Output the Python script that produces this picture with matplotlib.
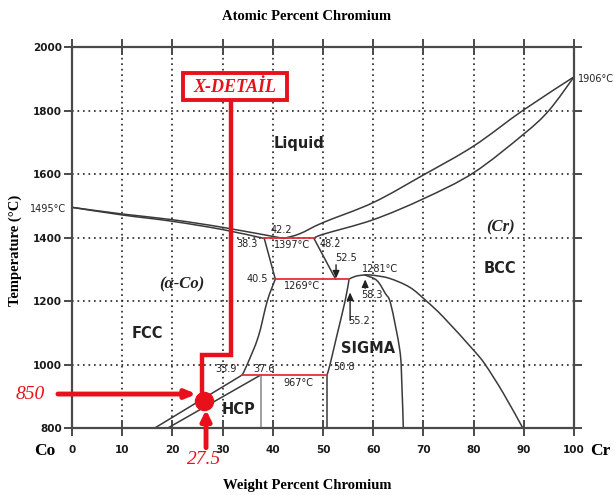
import matplotlib
matplotlib.use('Agg')
import matplotlib.pyplot as plt
from matplotlib.patches import Rectangle, PathPatch
from matplotlib.path import Path

# ---------------- data (wt% Cr, temperature °C) ----------------
x_ticks = [0, 10, 20, 30, 40, 50, 60, 70, 80, 90, 100]
y_ticks = [800, 1000, 1200, 1400, 1600, 1800, 2000]

liq_co_x = [0, 10, 20, 30, 42.2]
liq_co_t = [1495, 1474, 1456, 1432, 1397]
sol_co_x = [0, 10, 20, 30, 38.3]
sol_co_t = [1495, 1471, 1451, 1425, 1397]

liq_cr_x = [42.2, 45.4, 50, 60, 70, 80, 89.8, 100]
liq_cr_t = [1397, 1412, 1447, 1510, 1597, 1688, 1800, 1906]
sol_cr_x = [48.2, 50, 60, 70, 80, 90, 95, 100]
sol_cr_t = [1397, 1410, 1456, 1522, 1604, 1726, 1800, 1906]

aco_x = [38.3, 40.5, 38.9, 37.1, 34.9, 33.9]
aco_t = [1397, 1269, 1200, 1087, 1000, 967]

cr_solv_x = [48.2, 52.5]
cr_solv_t = [1397, 1269]

bcc_x = [55.2, 56.5, 58.3, 60, 63.3, 67.3, 70.6, 74, 80, 82.3, 85.9, 89.8]
bcc_t = [1269, 1278, 1282, 1281, 1271, 1243, 1200, 1149, 1045, 1000, 910, 800]

sig_left_x = [50.8, 50.8, 51.4, 52.7, 54.4, 55.2]
sig_left_t = [800, 967, 1000, 1087, 1200, 1269]
sig_right_x = [58.3, 60.7, 62.4, 63.5, 65.3, 65.7, 66]
sig_right_t = [1282, 1265, 1224, 1190, 1045, 941, 800]

fcc_x = [33.9, 16.5]
fcc_t = [967, 800]
hcp_x = [37.6, 19.1]
hcp_t = [967, 800]
hcp_sig_x = [37.6, 37.6]
hcp_sig_t = [967, 800]

iso_t = [1397, 1269, 967]
iso_x0 = [38.3, 40.5, 33.9]
iso_x1 = [48.2, 55.2, 50.8]

# point of interest
poi_x = 26.3
poi_t = 885

# ---------------- figure ----------------
W, H = 615, 495
fig = plt.figure(figsize=(W / 100, H / 100), dpi=100)
ax = fig.add_axes([72 / W, 1 - 428 / H, (574 - 72) / W, (428 - 47) / H])
ax.set_xlim(0, 100)
ax.set_ylim(800, 2000)

line_col = '#3a3a3a'
red = '#e8101a'


def smooth_curve(xs, ys, **kw):
    """Draw a smooth (Catmull-Rom as Bezier) path through the read points."""
    # work in display-independent scaled coordinates so smoothing is isotropic
    sx, sy = 1.0, 100.0 / 1200.0 * (381 / 502)
    px = [x * sx for x in xs]
    py = [y * sy for y in ys]
    n = len(px)
    verts = [(xs[0], ys[0])]
    codes = [Path.MOVETO]
    for i in range(n - 1):
        p0 = (px[i - 1], py[i - 1]) if i > 0 else (px[i], py[i])
        p1 = (px[i], py[i])
        p2 = (px[i + 1], py[i + 1])
        p3 = (px[i + 2], py[i + 2]) if i + 2 < n else p2
        c1 = (p1[0] + (p2[0] - p0[0]) / 6, p1[1] + (p2[1] - p0[1]) / 6)
        c2 = (p2[0] - (p3[0] - p1[0]) / 6, p2[1] - (p3[1] - p1[1]) / 6)
        for c in (c1, c2, p2):
            verts.append((c[0] / sx, c[1] / sy))
        codes += [Path.CURVE4] * 3
    patch = PathPatch(Path(verts, codes), fill=False, **kw)
    ax.add_patch(patch)


curve = dict(edgecolor=line_col, lw=1.1, capstyle='round')

# grid
for gx in x_ticks[1:-1]:
    ax.axvline(gx, color='#222222', lw=1.2, ls=(0, (1, 2.3)), zorder=0)
for gy in y_ticks[1:-1]:
    ax.axhline(gy, color='#222222', lw=1.2, ls=(0, (1, 2.3)), zorder=0)

smooth_curve(liq_co_x, liq_co_t, **curve)
smooth_curve(sol_co_x, sol_co_t, **curve)
smooth_curve(liq_cr_x, liq_cr_t, **curve)
smooth_curve(sol_cr_x, sol_cr_t, **curve)
ax.plot(aco_x[:2], aco_t[:2], color=line_col, lw=1.1)
smooth_curve(aco_x[1:], aco_t[1:], **curve)
ax.plot(cr_solv_x, cr_solv_t, color=line_col, lw=1.1)
smooth_curve(bcc_x, bcc_t, **curve)
ax.plot(sig_left_x[:2], sig_left_t[:2], color=line_col, lw=1.1)
smooth_curve(sig_left_x[1:], sig_left_t[1:], **curve)
smooth_curve(sig_right_x, sig_right_t, **curve)
ax.plot(fcc_x, fcc_t, color=line_col, lw=1.1)
ax.plot(hcp_x, hcp_t, color=line_col, lw=1.1)
ax.plot(hcp_sig_x, hcp_sig_t, color='#999999', lw=1.3)

for t, a, b in zip(iso_t, iso_x0, iso_x1):
    ax.plot([a, b], [t, t], color='#e0303a', lw=1.3)

# spines & ticks
for s in ax.spines.values():
    s.set_color('#4a4a4a')
    s.set_linewidth(1.6)
ax.set_xticks(x_ticks)
ax.set_yticks(y_ticks)
ax.tick_params(axis='x', which='both', direction='inout', length=12, width=1.4,
               color='#4a4a4a', top=True, labeltop=False, pad=6)
ax.tick_params(axis='y', which='both', direction='out', length=6, width=1.4,
               color='#4a4a4a', right=True, pad=1)
for lab in ax.get_xticklabels() + ax.get_yticklabels():
    lab.set_fontsize(7.5)
    lab.set_fontweight('bold')
    lab.set_color('#1a1a1a')

serif = 'Liberation Serif'
fig.text(307 / W, 1 - 16 / H, 'Atomic Percent Chromium', ha='center', va='center',
         family=serif, weight='bold', fontsize=10.5)
fig.text(307 / W, 1 - 486 / H, 'Weight Percent Chromium', ha='center', va='center',
         family=serif, weight='bold', fontsize=10.5)
fig.text(15 / W, 1 - 250 / H, 'Temperature (°C)', ha='center', va='center',
         rotation=90, family=serif, weight='bold', fontsize=10.5)
fig.text(45 / W, 1 - 451 / H, 'Co', ha='center', va='center',
         family=serif, weight='bold', fontsize=12.5)
fig.text(600 / W, 1 - 451 / H, 'Cr', ha='center', va='center',
         family=serif, weight='bold', fontsize=12.5)

# small labels
small = dict(fontsize=7, color='#222222', ha='center', va='center')
labels = [
    ('42.2', 41.8, 1425), ('38.3', 34.9, 1378), ('1397°C', 43.8, 1375),
    ('48.2', 51.4, 1378), ('52.5', 54.6, 1334), ('40.5', 36.9, 1268),
    ('1269°C', 45.8, 1246), ('1281°C', 61.4, 1300), ('58.3', 59.8, 1218),
    ('55.2', 57.2, 1136), ('50.8', 54.2, 992), ('967°C', 45.0, 941),
    ('33.9', 30.7, 985), ('37.6', 38.2, 985),
]
for s, x, y in labels:
    ax.text(x, y, s, **small)
ax.text(-1.2, 1491, '1495°C', fontsize=7, color='#222222', ha='right', va='center',
        clip_on=False)
ax.text(100.8, 1899, '1906°C', fontsize=7, color='#222222', ha='left', va='center',
        clip_on=False)

big = dict(fontsize=10.5, weight='bold', color='#222222', ha='center', va='center')
ax.text(45.2, 1695, 'Liquid', **big)
ax.text(15.1, 1098, 'FCC', **big)
ax.text(85.3, 1302, 'BCC', **big)
ax.text(33.2, 857, 'HCP', **big)
ax.text(59.0, 1051, 'SIGMA', **big)
ax.text(21.9, 1252, '(α-Co)', fontsize=12, style='italic', weight='bold',
        family=serif, color='#222222', ha='center', va='center')
ax.text(85.3, 1431, '(Cr)', fontsize=12, style='italic', weight='bold',
        family=serif, color='#222222', ha='center', va='center')

# small black arrows
arr = dict(arrowstyle='-|>,head_length=0.45,head_width=0.2', color='#222222', lw=1.0,
           shrinkA=0, shrinkB=0)
ax.annotate('', xy=(52.6, 1271), xytext=(52.6, 1314), arrowprops=arr)
ax.annotate('', xy=(58.4, 1268), xytext=(58.4, 1240), arrowprops=arr)
ax.annotate('', xy=(55.4, 1227), xytext=(55.4, 1139), arrowprops=arr)

# red annotation
ax.add_patch(Rectangle((22.1, 1832), 20.7, 86, fill=True, facecolor='white',
                       edgecolor=red, lw=2.8, zorder=5))
ax.text(32.4, 1872, 'X-DETAİL', fontsize=13, style='italic', weight='bold',
        family=serif, color=red, ha='center', va='center', zorder=6)
ax.plot([31.7, 31.7, 25.8, 25.8], [1832, 1029, 1029, poi_t], color=red, lw=3.2,
        solid_joinstyle='miter', zorder=4)
ax.plot([poi_x], [poi_t], 'o', color=red, ms=13, zorder=6)
ax.annotate('', xy=(24.8, 907), xytext=(-2.8, 907), annotation_clip=False,
            arrowprops=dict(arrowstyle='-|>,head_length=0.6,head_width=0.25',
                            color=red, lw=3.5, shrinkA=0, shrinkB=0))
ax.annotate('', xy=(26.7, 857), xytext=(26.7, 738), annotation_clip=False,
            arrowprops=dict(arrowstyle='-|>,head_length=0.6,head_width=0.3',
                            color=red, lw=3.5, shrinkA=0, shrinkB=0))
ax.text(-8.4, 907, '850', fontsize=14, style='italic', family=serif, color=red,
        ha='center', va='center', clip_on=False)
ax.text(26.3, 700, '27.5', fontsize=14, style='italic', family=serif, color=red,
        ha='center', va='center', clip_on=False)

fig.savefig('out.png', dpi=100)
